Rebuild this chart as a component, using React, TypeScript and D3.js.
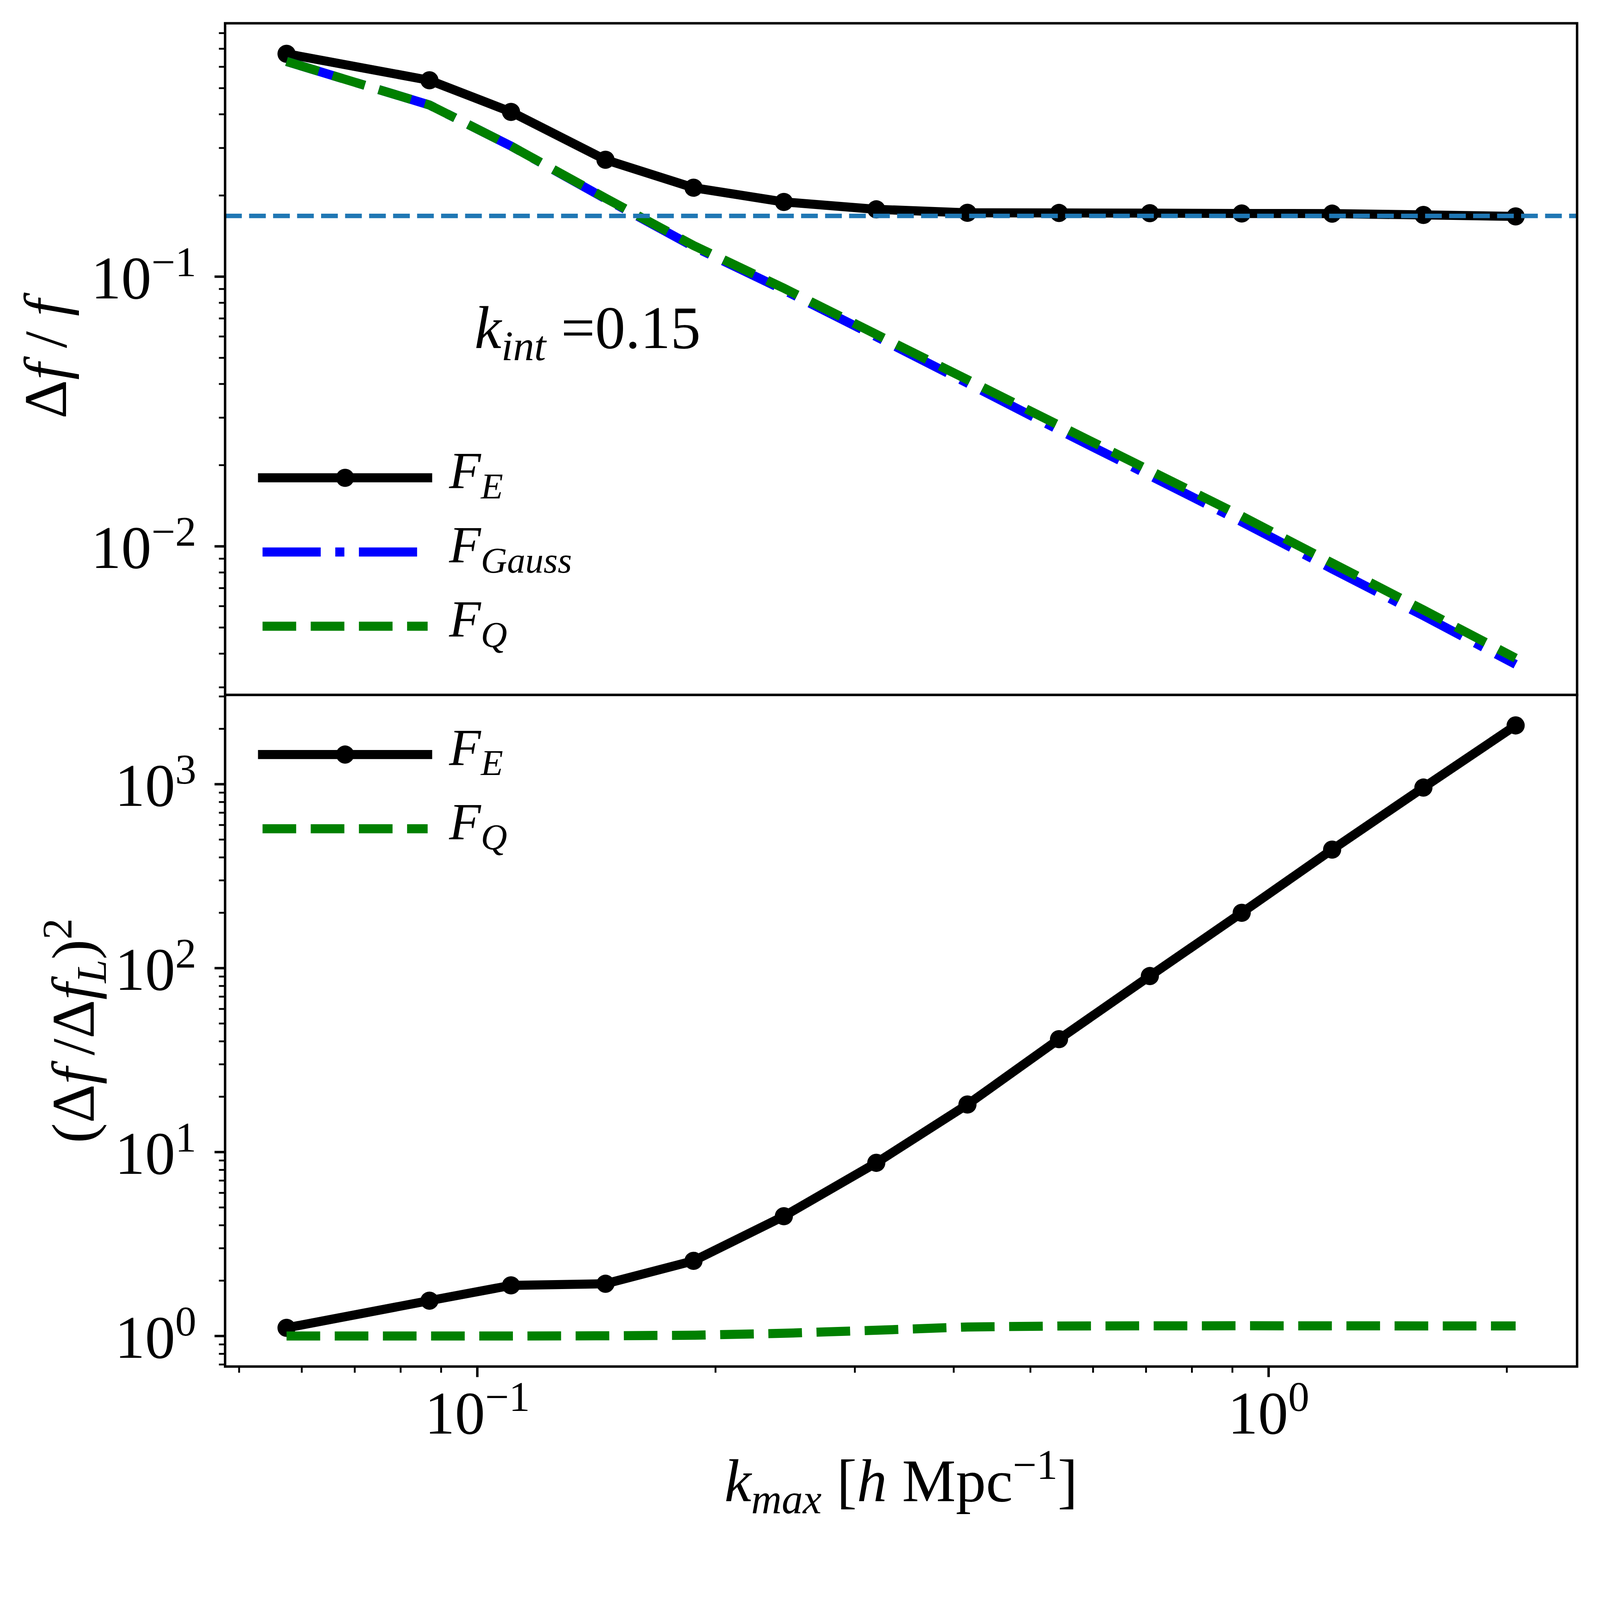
//@ts-nocheck
import React, { useRef, useEffect } from 'react'
import * as d3 from 'd3'

// k_max values shared by both panels [h/Mpc]
const kmax = [0.0574, 0.087, 0.1103, 0.1452, 0.1876, 0.244, 0.3193, 0.4163, 0.5434, 0.7078, 0.9247, 1.203, 1.569, 2.052]

// top panel: Delta f / f
const errE = [0.6705, 0.5347, 0.4083, 0.2713, 0.2137, 0.1893, 0.1777, 0.1725, 0.1723, 0.172, 0.1715, 0.1713, 0.1694, 0.1673]
const errGauss = [0.628, 0.433, 0.305, 0.1945, 0.1292, 0.0892, 0.0599, 0.0403, 0.027, 0.0183, 0.01233, 0.00825, 0.00553, 0.00365]
const errQ = [0.628, 0.433, 0.305, 0.1955, 0.1305, 0.0906, 0.0611, 0.0415, 0.0281, 0.0191, 0.01294, 0.00867, 0.00581, 0.00385]
const levelLine = 0.168

// bottom panel: (Delta f / Delta f_L)^2
const ratioE = [1.108, 1.557, 1.885, 1.924, 2.563, 4.48, 8.74, 18.14, 41.1, 90.6, 200, 441, 959, 2087]
const ratioQ = [1.0, 1.0, 1.0, 1.003, 1.01, 1.035, 1.075, 1.12, 1.133, 1.136, 1.137, 1.136, 1.135, 1.135]

// tick labels (exponents of 10)
const xTickExps = [-1, 0]
const topTickExps = [-2, -1]
const bottomTickExps = [0, 1, 2, 3]

const W = 4400
const H = 4248
const FONT = '"Liberation Serif", "DejaVu Serif", serif'

const logPad = (vals: number[]) => {
  const l = d3.extent(vals.map(Math.log10))
  const p = (l[1] - l[0]) * 0.05
  return [10 ** (l[0] - p), 10 ** (l[1] + p)]
}

const isMajor = (v: number) => Math.abs(Math.log10(v) - Math.round(Math.log10(v))) < 1e-6

type Part = { t: string; i?: boolean; s?: 'sup' | 'sub' }

function rich(sel, parts: Part[], size: number) {
  let off = 0
  parts.forEach((p) => {
    const shift = p.s === 'sup' ? -0.37 * size : p.s === 'sub' ? 0.2 * size : 0
    const ts = sel.append('tspan').attr('dy', shift - off).text(p.t)
    if (p.i) ts.attr('font-style', 'italic')
    if (p.s) ts.attr('font-size', size * 0.7)
    off = shift
  })
  return sel
}

const pow10 = (e: number): Part[] => [{ t: '10' }, { t: e < 0 ? '\u2212' + -e : String(e), s: 'sup' }]

const App: React.FC = () => {
  const node = useRef<SVGSVGElement | null>(null)

  useEffect(() => {
    const svg = d3.select(node.current)
    svg.selectAll('*').remove()
    svg.attr('viewBox', `0 0 ${W} ${H}`).attr('preserveAspectRatio', 'xMinYMin meet').attr('font-family', FONT)
    svg.append('rect').attr('width', W).attr('height', H).attr('fill', 'white')

    const left = 619
    const right = 4337
    const topY0 = 64
    const midY = 1911
    const botY1 = 3758

    const x = d3.scaleLog().domain(logPad(kmax)).range([left, right])
    const yTop = d3
      .scaleLog()
      .domain(logPad([...errE, ...errGauss, ...errQ, levelLine]))
      .range([midY, topY0])
    const yBot = d3
      .scaleLog()
      .domain(logPad([...ratioE, ...ratioQ]))
      .range([botY1, midY])

    const lineTop = (vals) =>
      d3
        .line()
        .x((d, i) => x(kmax[i]))
        .y((d) => yTop(d))(vals)
    const lineBot = (vals) =>
      d3
        .line()
        .x((d, i) => x(kmax[i]))
        .y((d) => yBot(d))(vals)

    const lwFrame = 6.7
    const tickFont = 166
    const legendFont = 143

    // ---------- top panel ----------
    const gTop = svg.append('g')
    gTop
      .append('path')
      .attr('d', lineTop(errE))
      .attr('fill', 'none')
      .attr('stroke', 'black')
      .attr('stroke-width', 25)
      .attr('stroke-linejoin', 'round')
      .attr('stroke-linecap', 'square')
    gTop
      .selectAll('circle')
      .data(errE)
      .join('circle')
      .attr('cx', (d, i) => x(kmax[i]))
      .attr('cy', (d) => yTop(d))
      .attr('r', 25)
      .attr('fill', 'black')
    gTop
      .append('path')
      .attr('d', lineTop(errGauss))
      .attr('fill', 'none')
      .attr('stroke', 'blue')
      .attr('stroke-width', 25)
      .attr('stroke-dasharray', '160 40 25 40')
      .attr('stroke-linejoin', 'round')
    gTop
      .append('path')
      .attr('d', lineTop(errQ))
      .attr('fill', 'none')
      .attr('stroke', 'green')
      .attr('stroke-width', 25)
      .attr('stroke-dasharray', '92.5 40')
      .attr('stroke-linejoin', 'round')
    gTop
      .append('line')
      .attr('x1', left)
      .attr('x2', right)
      .attr('y1', yTop(levelLine))
      .attr('y2', yTop(levelLine))
      .attr('stroke', '#1f77b4')
      .attr('stroke-width', 12.5)
      .attr('stroke-dasharray', '46 20')

    // ---------- bottom panel ----------
    const gBot = svg.append('g')
    gBot
      .append('path')
      .attr('d', lineBot(ratioE))
      .attr('fill', 'none')
      .attr('stroke', 'black')
      .attr('stroke-width', 25)
      .attr('stroke-linejoin', 'round')
      .attr('stroke-linecap', 'square')
    gBot
      .selectAll('circle')
      .data(ratioE)
      .join('circle')
      .attr('cx', (d, i) => x(kmax[i]))
      .attr('cy', (d) => yBot(d))
      .attr('r', 25)
      .attr('fill', 'black')
    gBot
      .append('path')
      .attr('d', lineBot(ratioQ))
      .attr('fill', 'none')
      .attr('stroke', 'green')
      .attr('stroke-width', 25)
      .attr('stroke-dasharray', '92.5 40')
      .attr('stroke-linejoin', 'round')

    // ---------- frames ----------
    ;[
      [topY0, midY],
      [midY, botY1]
    ].forEach(([a, b]) => {
      svg
        .append('rect')
        .attr('x', left)
        .attr('y', a)
        .attr('width', right - left)
        .attr('height', b - a)
        .attr('fill', 'none')
        .attr('stroke', 'black')
        .attr('stroke-width', lwFrame)
    })

    // ---------- y ticks ----------
    const yTicks = (scale, exps) => {
      scale.ticks().forEach((v) => {
        const major = isMajor(v)
        svg
          .append('line')
          .attr('x1', left)
          .attr('x2', left - (major ? 29 : 17))
          .attr('y1', scale(v))
          .attr('y2', scale(v))
          .attr('stroke', 'black')
          .attr('stroke-width', major ? 6.7 : 5)
      })
      exps.forEach((e) => {
        const t = svg
          .append('text')
          .attr('x', 540)
          .attr('y', scale(10 ** e) + 60)
          .attr('text-anchor', 'end')
          .attr('font-size', tickFont)
        rich(t, pow10(e), tickFont)
      })
    }
    yTicks(yTop, topTickExps)
    yTicks(yBot, bottomTickExps)

    // ---------- x ticks (bottom panel only) ----------
    x.ticks().forEach((v) => {
      const major = isMajor(v)
      svg
        .append('line')
        .attr('x1', x(v))
        .attr('x2', x(v))
        .attr('y1', botY1)
        .attr('y2', botY1 + (major ? 29 : 17))
        .attr('stroke', 'black')
        .attr('stroke-width', major ? 6.7 : 5)
    })
    xTickExps.forEach((e) => {
      const t = svg
        .append('text')
        .attr('x', x(10 ** e))
        .attr('y', 3942)
        .attr('text-anchor', 'middle')
        .attr('font-size', tickFont)
      rich(t, pow10(e), tickFont)
    })

    // ---------- axis labels ----------
    const xl = svg
      .append('text')
      .attr('x', (left + right) / 2)
      .attr('y', 4128)
      .attr('text-anchor', 'middle')
      .attr('font-size', tickFont)
      .style('white-space', 'pre')
    rich(
      xl,
      [{ t: 'k', i: true }, { t: 'max', i: true, s: 'sub' }, { t: ' [' }, { t: 'h', i: true }, { t: ' Mpc' }, { t: '\u22121', s: 'sup' }, { t: ']' }],
      tickFont
    )

    const ylTop = svg
      .append('text')
      .attr('transform', `translate(182,${(topY0 + midY) / 2}) rotate(-90)`)
      .attr('text-anchor', 'middle')
      .attr('font-size', tickFont)
      .style('white-space', 'pre')
    rich(ylTop, [{ t: '\u0394' }, { t: 'f', i: true }, { t: ' / ' }, { t: 'f', i: true }], tickFont)

    const ylBot = svg
      .append('text')
      .attr('transform', `translate(258,${(midY + botY1) / 2}) rotate(-90)`)
      .attr('text-anchor', 'middle')
      .attr('font-size', tickFont)
      .style('white-space', 'pre')
    rich(
      ylBot,
      [
        { t: '(\u0394' },
        { t: 'f', i: true },
        { t: '\u2009/\u0394' },
        { t: 'f', i: true },
        { t: 'L', i: true, s: 'sub' },
        { t: ')' },
        { t: '2', s: 'sup' }
      ],
      tickFont
    )

    // ---------- annotation ----------
    const ann = svg
      .append('text')
      .attr('x', 1305)
      .attr('y', 957)
      .attr('font-size', tickFont)
      .style('white-space', 'pre')
    rich(ann, [{ t: 'k', i: true }, { t: 'int', i: true, s: 'sub' }, { t: ' =0.15' }], tickFont)

    // ---------- legends ----------
    const legend = (entries, y0) => {
      entries.forEach((en, i) => {
        const y = y0 + i * 204
        const l = svg
          .append('line')
          .attr('x1', 722)
          .attr('x2', 1176)
          .attr('y1', y)
          .attr('y2', y)
          .attr('stroke', en.color)
          .attr('stroke-width', 25)
        if (en.dash) l.attr('stroke-dasharray', en.dash)
        else l.attr('stroke-linecap', 'square')
        if (en.marker) svg.append('circle').attr('cx', 949).attr('cy', y).attr('r', 25).attr('fill', en.color)
        const t = svg
          .append('text')
          .attr('x', 1235)
          .attr('y', y + 28)
          .attr('font-size', legendFont)
        rich(t, [{ t: 'F', i: true }, { t: en.sub, i: true, s: 'sub' }], legendFont)
      })
    }
    legend(
      [
        { color: 'black', marker: true, sub: 'E' },
        { color: 'blue', dash: '160 40 25 40', sub: 'Gauss' },
        { color: 'green', dash: '92.5 40', sub: 'Q' }
      ],
      1314
    )
    legend(
      [
        { color: 'black', marker: true, sub: 'E' },
        { color: 'green', dash: '92.5 40', sub: 'Q' }
      ],
      2075
    )
  }, [node])

  return (
    <svg
      ref={node}
      style={{ position: 'fixed', left: 0, top: 0, width: '100vw', height: '100vh', display: 'block', background: 'white' }}
    ></svg>
  )
}

export default App
